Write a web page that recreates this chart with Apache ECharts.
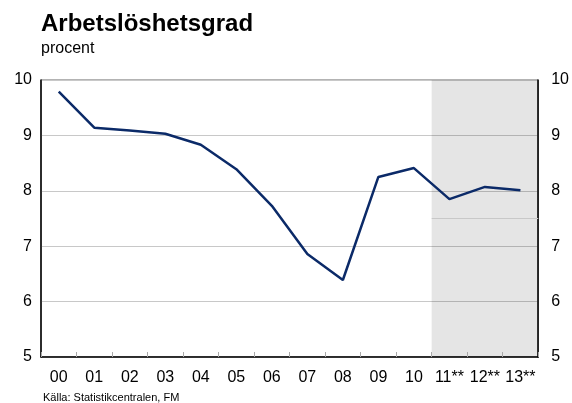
<!DOCTYPE html>
<html>
<head>
<meta charset="utf-8">
<script src="https://cdn.jsdelivr.net/npm/echarts@6/dist/echarts.min.js"></script>
<style>
html, body { margin: 0; padding: 0; background: #fff; }
#chart { width: 572px; height: 403px; }
</style>
</head>
<body>
<div id="chart"></div>
<script>
// arbetslöshetsgrad, procent
const years = ['00', '01', '02', '03', '04', '05', '06', '07', '08', '09', '10', '11**', '12**', '13**'];
const rate = [9.79, 9.14, 9.09, 9.03, 8.83, 8.39, 7.73, 6.86, 6.39, 8.25, 8.41, 7.85, 8.07, 8.01];
const forecastFrom = 11; // index of first forecast year (11**)

var myChart = echarts.init(document.getElementById('chart'));
var font = 'Liberation Sans, Arial, sans-serif';

var option = {
  animation: false,
  title: [
    {
      text: 'Arbetslöshetsgrad',
      left: 36, top: 7,
      textStyle: { fontFamily: font, fontSize: 24, fontWeight: 'bold', color: '#000' }
    },
    {
      text: 'procent',
      left: 36, top: 36,
      textStyle: { fontFamily: font, fontSize: 16, fontWeight: 'normal', color: '#000' }
    },
    {
      text: 'Källa: Statistikcentralen, FM',
      left: 38, top: 387,
      textStyle: { fontFamily: font, fontSize: 11, fontWeight: 'normal', color: '#000' }
    }
  ],
  grid: {
    left: 41, right: 32, top: 80, bottom: 46,
    show: true, borderColor: '#666', borderWidth: 1
  },
  xAxis: [
    {
      type: 'category',
      data: years,
      boundaryGap: true,
      z: 3,
      axisLine: { lineStyle: { color: '#000', width: 1.5 } },
      axisTick: { show: true, inside: true, length: 5, interval: 0, lineStyle: { color: '#a8a8a8', width: 1 } },
      axisLabel: { fontFamily: font, fontSize: 16, color: '#000', margin: 13, interval: 0 },
      splitLine: { show: false }
    },
    {
      // hidden helper axis spanning category edges, used for the forecast shading
      type: 'value', min: 0, max: years.length, show: false
    }
  ],
  yAxis: [
    {
      type: 'value', min: 5, max: 10, interval: 1,
      axisLine: { show: true, lineStyle: { color: '#000', width: 1.5 } },
      axisTick: { show: false },
      axisLabel: { fontFamily: font, fontSize: 16, color: '#000', margin: 9 },
      splitLine: { lineStyle: { color: '#c8c8c8' } }
    },
    {
      type: 'value', min: 5, max: 10, interval: 1, position: 'right',
      axisLine: { show: true, lineStyle: { color: '#000', width: 1.5 } },
      axisTick: { show: false },
      axisLabel: { fontFamily: font, fontSize: 16, color: '#000', margin: 13 },
      splitLine: { show: false }
    }
  ],
  series: [
    {
      type: 'line',
      xAxisIndex: 1,
      data: [],
      markArea: {
        silent: true,
        itemStyle: { color: 'rgba(0,0,0,0.1)' },
        data: [[{ xAxis: forecastFrom }, { xAxis: years.length }]]
      },
      markLine: {
        silent: true,
        symbol: 'none',
        label: { show: false },
        lineStyle: { color: '#c8c8c8', type: 'solid', width: 1 },
        data: [[{ coord: [forecastFrom, 7.5] }, { coord: [years.length, 7.5] }]]
      }
    },
    {
      type: 'line',
      data: rate,
      symbol: 'none',
      z: 5,
      lineStyle: { color: '#0b2a68', width: 2.5 }
    }
  ]
};

option && myChart.setOption(option);
</script>
</body>
</html>
